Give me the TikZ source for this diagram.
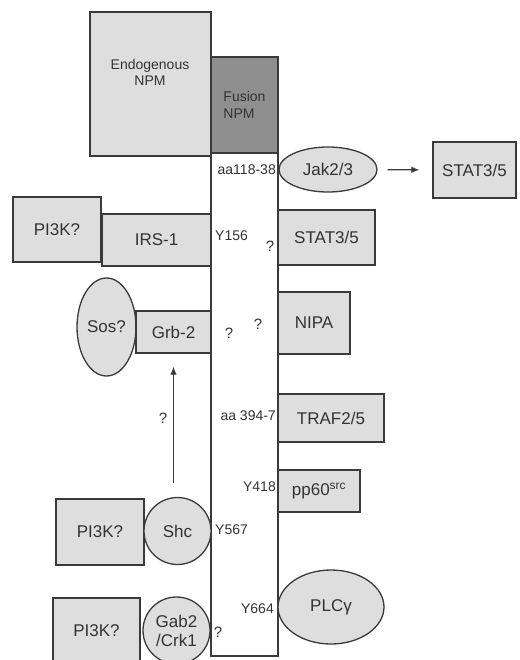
\documentclass[tikz,border=0pt]{standalone}
\usepackage{fontspec}
\setmainfont{Liberation Sans}
\usepackage{tikz}
\usetikzlibrary{arrows.meta,positioning,shapes.geometric}
\usepackage{xcolor}
\definecolor{fline}{HTML}{3A3A3A}
\definecolor{ftext}{HTML}{333333}
\definecolor{flight}{HTML}{DEDEDE}
\definecolor{fdark}{HTML}{8F8F8F}
\tikzset{
  box/.style   = {draw=fline, line width=1.3pt, fill=flight, rectangle,
                  inner sep=0pt, align=center, text=ftext,
                  font=\fontsize{17}{19}\selectfont},
  oval/.style  = {box, ellipse},
  disc/.style  = {box, circle},
  site/.style  = {text=ftext, inner sep=0pt, font=\fontsize{14}{16}\selectfont},
  qmark/.style = {text=ftext, inner sep=0pt, font=\fontsize{15}{17}\selectfont},
  sig/.style   = {-{Latex[length=8pt,width=6.5pt]}, line width=1.2pt, draw=fline},
}
\begin{document}
\begin{tikzpicture}[x=1pt, y=-1pt]
\useasboundingbox (0,0) rectangle (519,660);
% ---------------- NPM part and fusion column ----------------
\node[box, minimum width=121pt, minimum height=144pt] (endo) at (150.5,84) {};
\node[site, align=center] (endotxt) at (150,72) {Endogenous\\NPM};
\node[box, fill=white, minimum width=67pt, minimum height=503pt] (col) at (244.5,404.5) {};
\node[box, fill=fdark, align=left, minimum width=67pt, minimum height=96pt,
      font=\fontsize{14}{17}\selectfont] (fus) at (244.5,105) {Fusion\\NPM};
% ---------------- sites on the column ----------------
\node[site, anchor=east] (aa1) at (276,170) {aa118-38};
\node[site, anchor=west] (y156) at (215,236) {Y156};
\node[site, anchor=east] (aa2) at (276,416) {aa 394-7};
\node[site, anchor=east] (y418) at (276,487) {Y418};
\node[site, anchor=west] (y567) at (215,530) {Y567};
\node[site, anchor=east] (y664) at (274,609) {Y664};
\node[qmark] (q1) at (270,246) {?};
\node[qmark] (q2) at (229,333) {?};
\node[qmark] (q3) at (258,324) {?};
\node[qmark] (q4) at (218,632) {?};
% ---------------- right-hand partners ----------------
\node[oval, minimum width=98pt, minimum height=45pt] (jak) at (328,169.5) {Jak2/3};
\node[box, minimum width=83pt, minimum height=56pt] (stata) at (474.5,170) {STAT3/5};
\draw[sig, shorten <=10pt, shorten >=13pt] (jak) -- (stata);
\node[box, minimum width=97pt, minimum height=55pt] (statb) at (326.5,237.5) {STAT3/5};
\node[box, minimum width=72pt, minimum height=62pt] (nipa) at (314,323) {NIPA};
\node[box, minimum width=106pt, minimum height=48pt] (traf) at (331,418) {TRAF2/5};
\node[box, minimum width=82pt, minimum height=42pt] (pp60) at (319,491) {pp60\textsuperscript{src}};
\node[oval, minimum width=106pt, minimum height=74pt] (plc) at (331,607) {PLCγ};
% ---------------- left-hand partners ----------------
\node[box, minimum width=88pt, minimum height=65pt] (pika) at (57,229.5) {PI3K?};
\node[box, minimum width=109pt, minimum height=52pt] (irs) at (156.5,240) {IRS-1};
\node[oval, minimum width=59pt, minimum height=98pt] (sos) at (106.5,327) {Sos?};
\node[box, minimum width=75pt, minimum height=42pt] (grb) at (173.5,332) {Grb-2};
\node[box, minimum width=88pt, minimum height=66pt] (pikb) at (100,532) {PI3K?};
\node[disc, minimum size=67pt] (shc) at (177.5,531) {Shc};
\draw[sig, shorten <=14pt, shorten >=13pt] (shc.north -| grb.south) -- (grb.south);
\node[qmark] (q5) at (163,418) {?};
\node[box, minimum width=87pt, minimum height=66pt] (pikc) at (96.5,631) {PI3K?};
\node[disc, minimum size=67pt] (gab) at (176.5,630.5) {Gab2\\/Crk1};
\end{tikzpicture}
\end{document}
